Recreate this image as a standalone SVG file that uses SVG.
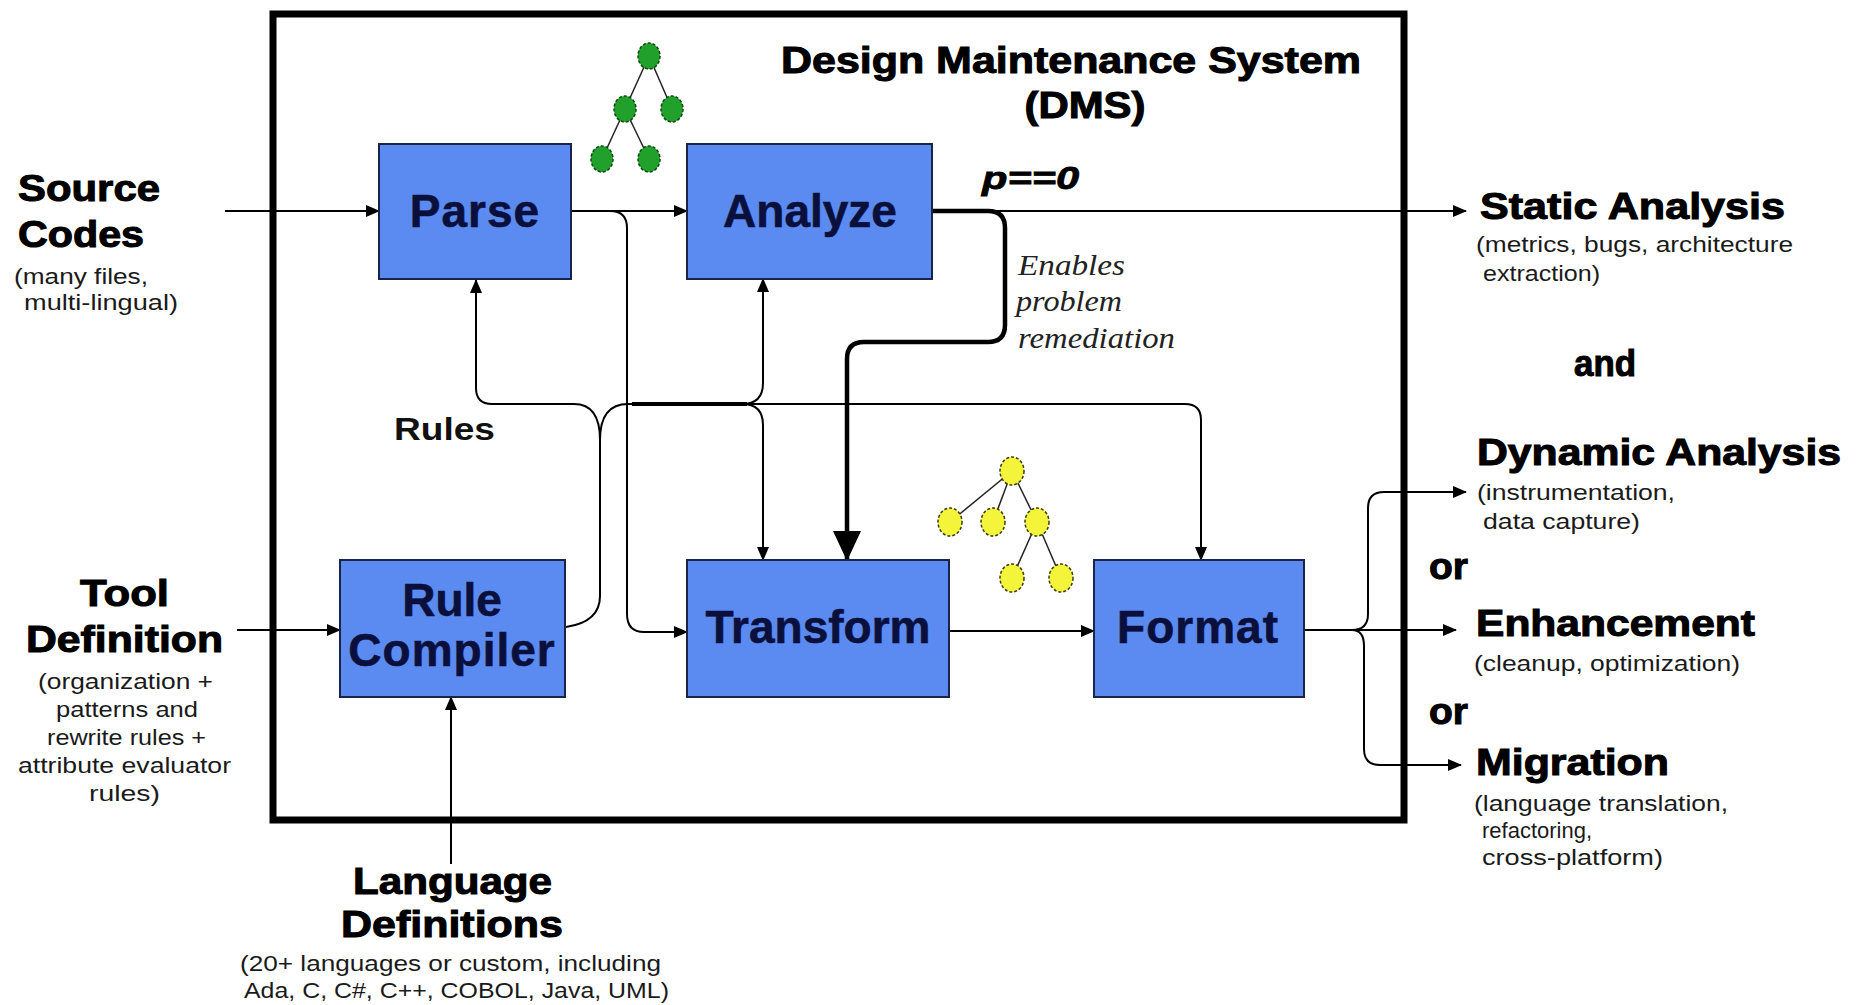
<svg xmlns="http://www.w3.org/2000/svg" width="1856" height="1005" viewBox="0 0 1856 1005">
<defs>
<marker id="ah" markerUnits="userSpaceOnUse" markerWidth="14" markerHeight="12" refX="13" refY="6" orient="auto"><path d="M0,0 L14,6 L0,12 z" fill="#000"/></marker>
<marker id="big" markerUnits="userSpaceOnUse" markerWidth="30" markerHeight="28" refX="29" refY="14" orient="auto"><path d="M0,0 L30,14 L0,28 z" fill="#000"/></marker>
<style>
.box{fill:#5b8bf0;stroke:#1a2448;stroke-width:2}
.bt{font-family:"Liberation Sans",Arial,sans-serif;font-weight:bold;font-size:46px;fill:#0a0f3c;stroke:#0a0f3c;stroke-width:0.6;text-anchor:middle}
.hd{font-family:"Liberation Sans",Arial,sans-serif;font-weight:900;font-size:36px;fill:#000;stroke:#000;stroke-width:1}
.sm{font-family:"Liberation Sans",Arial,sans-serif;font-size:22px;fill:#1a1a1a}
.it{font-family:"Liberation Serif","Times New Roman",serif;font-style:italic;font-size:30px;fill:#222}
.ln{fill:none;stroke:#000;stroke-width:2}
.thick{fill:none;stroke:#000;stroke-width:4.5}
.gn{fill:#22a02c;stroke:#0b4a10;stroke-width:1.5;stroke-dasharray:3 2}
.yn{fill:#f4f43a;stroke:#3a3a10;stroke-width:1.5;stroke-dasharray:3 2}
.te{stroke:#222;stroke-width:1.5}
</style>
</defs>
<rect width="1856" height="1005" fill="#fff"/>
<rect id="frame" x="273" y="14" width="1131" height="806" fill="none" stroke="#000" stroke-width="7"/>
<g id="title">
<text class="hd" x="1071" y="73" text-anchor="middle" textLength="580" lengthAdjust="spacingAndGlyphs">Design Maintenance System</text>
<text class="hd" x="1085" y="118" text-anchor="middle" textLength="121" lengthAdjust="spacingAndGlyphs">(DMS)</text>
</g>
<g id="tree-green">
<line class="te" x1="649" y1="56" x2="625" y2="109"/><line class="te" x1="649" y1="56" x2="672" y2="109"/>
<line class="te" x1="625" y1="109" x2="602" y2="159"/><line class="te" x1="625" y1="109" x2="649" y2="159"/>
<ellipse class="gn" cx="649" cy="56" rx="11" ry="13"/><ellipse class="gn" cx="625" cy="109" rx="11" ry="13"/><ellipse class="gn" cx="672" cy="109" rx="11" ry="13"/><ellipse class="gn" cx="602" cy="159" rx="11" ry="13"/><ellipse class="gn" cx="649" cy="159" rx="11" ry="13"/>
</g>
<g id="tree-yellow">
<line class="te" x1="1012" y1="471" x2="950" y2="522"/><line class="te" x1="1012" y1="471" x2="993" y2="522"/><line class="te" x1="1012" y1="471" x2="1037" y2="522"/>
<line class="te" x1="1037" y1="522" x2="1012" y2="578"/><line class="te" x1="1037" y1="522" x2="1061" y2="578"/>
<ellipse class="yn" cx="1012" cy="471" rx="12" ry="14"/><ellipse class="yn" cx="950" cy="522" rx="12" ry="14"/><ellipse class="yn" cx="993" cy="522" rx="12" ry="14"/><ellipse class="yn" cx="1037" cy="522" rx="12" ry="14"/><ellipse class="yn" cx="1012" cy="578" rx="12" ry="14"/><ellipse class="yn" cx="1061" cy="578" rx="12" ry="14"/>
</g>
<g id="connectors">
<path class="ln" d="M225,211 H379" marker-end="url(#ah)"/>
<path class="ln" d="M571,211 H687" marker-end="url(#ah)"/>
<path class="ln" d="M932,211 H1466" marker-end="url(#ah)"/>
<path class="ln" d="M610,211 Q627,211 627,228 V614 Q627,632 644,632 H687" marker-end="url(#ah)"/>
<path class="thick" d="M932,211 H988 Q1005,211 1005,228 V325 Q1005,342 988,342 H864 Q847,342 847,359 V560" marker-end="url(#big)"/>
<path class="ln" d="M566,627 Q600,622 600,596 V440"/>
<path class="ln" d="M600,440 Q600,404 574,404 H492 Q476,404 476,388 V280" marker-end="url(#ah)"/>
<path class="ln" d="M600,440 Q600,404 628,404 H1185 Q1201,404 1201,420 V560" marker-end="url(#ah)"/>
<path class="ln" d="M742,404 Q763,404 763,383 V279" marker-end="url(#ah)"/>
<path class="ln" d="M742,404 Q763,404 763,425 V560" marker-end="url(#ah)"/>
<path fill="none" stroke="#000" stroke-width="4" d="M632,404 H747"/>
<path class="ln" d="M237,630 H340" marker-end="url(#ah)"/>
<path class="ln" d="M451,864 V697" marker-end="url(#ah)"/>
<path class="ln" d="M949,631 H1094" marker-end="url(#ah)"/>
<path class="ln" d="M1304,630 H1456" marker-end="url(#ah)"/>
<path class="ln" d="M1352,630 Q1368,630 1368,614 V508 Q1368,492 1384,492 H1466" marker-end="url(#ah)"/>
<path class="ln" d="M1352,630 Q1364,630 1364,646 V749 Q1364,765 1380,765 H1461" marker-end="url(#ah)"/>
</g>
<g id="parse"><rect class="box" x="379" y="144" width="192" height="135"/><text class="bt" x="475" y="227" letter-spacing="1">Parse</text></g>
<g id="analyze"><rect class="box" x="687" y="144" width="245" height="135"/><text class="bt" x="810" y="227">Analyze</text></g>
<g id="rule-compiler"><rect class="box" x="340" y="560" width="225" height="137"/><text class="bt" x="452" y="616">Rule</text><text class="bt" x="452" y="666" letter-spacing="1">Compiler</text></g>
<g id="transform"><rect class="box" x="687" y="560" width="262" height="137"/><text class="bt" x="818" y="643">Transform</text></g>
<g id="format"><rect class="box" x="1094" y="560" width="210" height="137"/><text class="bt" x="1198" y="643" letter-spacing="1">Format</text></g>
<g id="labels">
<text x="982" y="189" font-family="Liberation Sans,Arial,sans-serif" font-weight="bold" font-style="italic" font-size="32" stroke="#000" stroke-width="0.8" textLength="97" lengthAdjust="spacingAndGlyphs">p==0</text>
<text class="it" x="1018" y="275" textLength="107" lengthAdjust="spacingAndGlyphs">Enables</text>
<text class="it" x="1016" y="311" textLength="106" lengthAdjust="spacingAndGlyphs">problem</text>
<text class="it" x="1018" y="348" textLength="157" lengthAdjust="spacingAndGlyphs">remediation</text>
<text x="394" y="440" font-family="Liberation Sans,Arial,sans-serif" font-weight="bold" font-size="32" fill="#111" textLength="101" lengthAdjust="spacingAndGlyphs">Rules</text>
</g>
<g id="source-codes">
<text class="hd" x="18" y="201" textLength="142" lengthAdjust="spacingAndGlyphs">Source</text>
<text class="hd" x="18" y="247" textLength="126" lengthAdjust="spacingAndGlyphs">Codes</text>
<text class="sm" x="14" y="284" textLength="134" lengthAdjust="spacingAndGlyphs">(many files,</text>
<text class="sm" x="24" y="310" textLength="154" lengthAdjust="spacingAndGlyphs">multi-lingual)</text>
</g>
<g id="tool-definition">
<text class="hd" x="80" y="606" textLength="89" lengthAdjust="spacingAndGlyphs">Tool</text>
<text class="hd" x="26" y="652" textLength="197" lengthAdjust="spacingAndGlyphs">Definition</text>
<text class="sm" x="38" y="689" textLength="175" lengthAdjust="spacingAndGlyphs">(organization +</text>
<text class="sm" x="56" y="717" textLength="142" lengthAdjust="spacingAndGlyphs">patterns and</text>
<text class="sm" x="47" y="745" textLength="159" lengthAdjust="spacingAndGlyphs">rewrite rules +</text>
<text class="sm" x="18" y="773" textLength="213" lengthAdjust="spacingAndGlyphs">attribute evaluator</text>
<text class="sm" x="89" y="801" textLength="71" lengthAdjust="spacingAndGlyphs">rules)</text>
</g>
<g id="language-definitions">
<text class="hd" x="353" y="894" textLength="199" lengthAdjust="spacingAndGlyphs">Language</text>
<text class="hd" x="341" y="937" textLength="222" lengthAdjust="spacingAndGlyphs">Definitions</text>
<text class="sm" x="240" y="971" textLength="421" lengthAdjust="spacingAndGlyphs">(20+ languages or custom, including</text>
<text class="sm" x="244" y="998" textLength="425" lengthAdjust="spacingAndGlyphs">Ada, C, C#, C++, COBOL, Java, UML)</text>
</g>
<g id="static-analysis">
<text class="hd" x="1480" y="219" textLength="305" lengthAdjust="spacingAndGlyphs">Static Analysis</text>
<text class="sm" x="1476" y="252" textLength="317" lengthAdjust="spacingAndGlyphs">(metrics, bugs, architecture</text>
<text class="sm" x="1483" y="281" textLength="117" lengthAdjust="spacingAndGlyphs">extraction)</text>
</g>
<text class="hd" x="1574" y="376" textLength="62" lengthAdjust="spacingAndGlyphs">and</text>
<g id="dynamic-analysis">
<text class="hd" x="1477" y="465" textLength="364" lengthAdjust="spacingAndGlyphs">Dynamic Analysis</text>
<text class="sm" x="1477" y="500" textLength="198" lengthAdjust="spacingAndGlyphs">(instrumentation,</text>
<text class="sm" x="1483" y="529" textLength="157" lengthAdjust="spacingAndGlyphs">data capture)</text>
</g>
<text class="hd" x="1429" y="579" textLength="39" lengthAdjust="spacingAndGlyphs">or</text>
<g id="enhancement">
<text class="hd" x="1476" y="636" textLength="279" lengthAdjust="spacingAndGlyphs">Enhancement</text>
<text class="sm" x="1474" y="671" textLength="266" lengthAdjust="spacingAndGlyphs">(cleanup, optimization)</text>
</g>
<text class="hd" x="1429" y="724" textLength="39" lengthAdjust="spacingAndGlyphs">or</text>
<g id="migration">
<text class="hd" x="1476" y="775" textLength="193" lengthAdjust="spacingAndGlyphs">Migration</text>
<text class="sm" x="1474" y="811" textLength="254" lengthAdjust="spacingAndGlyphs">(language translation,</text>
<text class="sm" x="1482" y="838" textLength="110" lengthAdjust="spacingAndGlyphs">refactoring,</text>
<text class="sm" x="1482" y="865" textLength="181" lengthAdjust="spacingAndGlyphs">cross-platform)</text>
</g>
</svg>
